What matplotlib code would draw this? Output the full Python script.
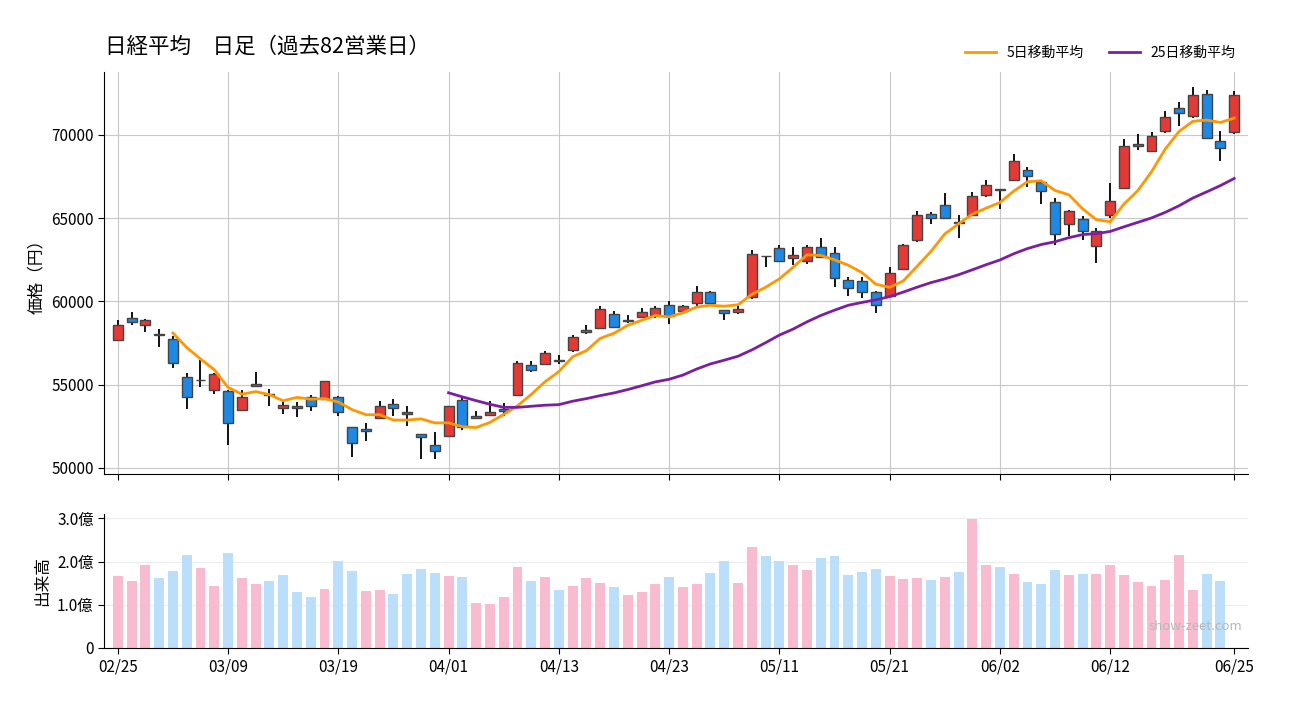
import numpy as np
import pandas as pd
import matplotlib
matplotlib.use("Agg")
import matplotlib.pyplot as plt

plt.rcParams['font.family'] = ['Noto Sans CJK JP', 'DejaVu Sans']

# 日足データ (過去82営業日)
opens = [57650, 58990, 58570, 58020, 57730, 55450, 55250, 54670, 54610, 53500,
         54910, 54400, 53590, 53590, 54250, 54140, 54250, 52440, 52340, 52990,
         53830, 53230, 52020, 51360, 51880, 54070, 52990, 53170, 53520, 54370,
         56170, 56230, 56420, 57050, 58290, 58410, 59230, 58830, 59050, 59150,
         59770, 59410, 59890, 60550, 59470, 59350, 60250, 62720, 63200, 62600,
         62410, 63250, 62900, 61270, 61210, 60550, 60350, 61930, 63680, 65240,
         65780, 64740, 65180, 66380, 66720, 67280, 67880, 67160, 65960, 64640,
         64940, 63320, 65180, 66800, 69320, 69020, 70220, 71600, 71120, 72440,
         69620, 70160]
highs = [58890, 59350, 58950, 58330, 57930, 55690, 56490, 55690, 54650, 54670,
         55780, 54750, 54020, 53960, 54370, 55240, 54310, 52460, 52690, 54040,
         54140, 53710, 52040, 52140, 53730, 54190, 53400, 54020, 53890, 56430,
         56430, 57030, 56790, 57990, 58590, 59730, 59390, 59170, 59590, 59730,
         60030, 59770, 60950, 60610, 59500, 59710, 63090, 62740, 63390, 63290,
         63390, 63810, 63250, 61490, 61490, 60610, 62090, 63440, 65450, 65380,
         66480, 65180, 66540, 67280, 66740, 68860, 68060, 67220, 66180, 65500,
         65140, 64410, 67100, 69740, 70060, 70160, 71420, 71960, 72880, 72680,
         70220, 72620]
lows = [57600, 58550, 58130, 57230, 56020, 53560, 54880, 54460, 51340, 53440,
        54850, 53740, 53260, 53080, 53440, 54100, 53140, 50620, 51580, 52960,
        53140, 52480, 50500, 50500, 51840, 52240, 52920, 53150, 53100, 54340,
        55750, 56200, 56230, 56970, 58010, 58370, 58400, 58690, 58970, 58970,
        58610, 59210, 59590, 59690, 58890, 59230, 60170, 62090, 62400, 62190,
        62270, 62640, 60890, 60350, 60230, 59270, 60330, 61870, 63560, 64640,
        64980, 63830, 65150, 66240, 65540, 67260, 66900, 65870, 63410, 63950,
        63710, 62330, 65000, 66780, 69120, 69000, 70100, 70520, 71040, 69780,
        68460, 70040]
closes = [58590, 58750, 58870, 58000, 56290, 54250, 55280, 55630, 52690, 54250,
          55030, 54380, 53770, 53720, 53700, 55210, 53350, 51480, 52200, 53710,
          53590, 53350, 51840, 51000, 53710, 52440, 53100, 53380, 53410, 56290,
          55870, 56890, 56450, 57850, 58150, 59530, 58430, 58840, 59350, 59590,
          59090, 59710, 60550, 59890, 59290, 59530, 62830, 62700, 62410, 62780,
          63250, 62650, 61390, 60790, 60550, 59770, 61690, 63380, 65180, 64990,
          65010, 64720, 66300, 66980, 66700, 68420, 67520, 66620, 64040, 65420,
          64210, 64230, 66020, 69340, 69440, 69920, 71060, 71300, 72380, 69800,
          69200, 72380]
# 出来高 (億株), 最終日は未確定
volumes = [1.67, 1.56, 1.93, 1.63, 1.79, 2.16, 1.86, 1.44, 2.21, 1.63,
           1.49, 1.56, 1.70, 1.30, 1.19, 1.37, 2.02, 1.79, 1.33, 1.35,
           1.26, 1.72, 1.84, 1.74, 1.67, 1.65, 1.05, 1.02, 1.19, 1.88,
           1.56, 1.65, 1.35, 1.44, 1.63, 1.51, 1.42, 1.23, 1.30, 1.47,
           1.65, 1.42, 1.49, 1.74, 2.02, 1.51, 2.33, 2.14, 2.02, 1.91,
           1.81, 2.09, 2.14, 1.70, 1.77, 1.84, 1.67, 1.60, 1.63, 1.58,
           1.65, 1.77, 2.98, 1.91, 1.88, 1.72, 1.53, 1.49, 1.81, 1.70,
           1.72, 1.72, 1.91, 1.70, 1.53, 1.44, 1.58, 2.16, 1.35, 1.72,
           1.56, 0.0]
tick_pos = [0, 8, 16, 24, 32, 40, 48, 56, 64, 72, 81]
tick_labels = ['02/25', '03/09', '03/19', '04/01', '04/13', '04/23',
               '05/11', '05/21', '06/02', '06/12', '06/25']

df = pd.DataFrame({'open': opens, 'high': highs, 'low': lows,
                   'close': closes, 'volume': volumes})
x = np.arange(len(df))
ma5 = df['close'].rolling(5).mean()
ma25 = df['close'].rolling(25).mean()

UP = '#e53935'
DOWN = '#1e88e5'

fig = plt.figure(figsize=(13, 7.2), dpi=100)
ax = fig.add_axes([0.08, 0.342, 0.88, 0.558])
axv = fig.add_axes([0.08, 0.1, 0.88, 0.186])

# ローソク足
up = df['close'] >= df['open']
ax.vlines(x, df['low'], df['high'], color='#111111', linewidth=1.4, zorder=2)
body_bottom = np.minimum(df['open'], df['close'])
body_h = np.maximum(np.abs(df['close'] - df['open']), 40)
ax.bar(x, body_h, bottom=body_bottom, width=0.72,
       color=np.where(up, UP, DOWN), edgecolor='#444444', linewidth=1.0, zorder=3)

ax.plot(x, ma5, color='#ff9800', linewidth=2, label='5日移動平均', zorder=4)
ax.plot(x, ma25, color='#7b1fa2', linewidth=2, label='25日移動平均', zorder=4)

ax.set_xlim(-1, 82)
ax.set_ylim(49640, 73780)
ax.set_yticks([50000, 55000, 60000, 65000, 70000])
ax.set_xticks(tick_pos)
ax.set_xticklabels([])
ax.grid(True, color='#c8c8c8', linewidth=0.8)
ax.set_axisbelow(True)
for s in ['top', 'right']:
    ax.spines[s].set_visible(False)
ax.tick_params(labelsize=11, length=4)
ax.set_ylabel('価格（円）', fontsize=12)

ax.legend(loc='lower right', bbox_to_anchor=(1.0, 1.0), ncol=2, frameon=False,
          fontsize=10, handlelength=2.2, columnspacing=1.8)

fig.text(0.081, 0.927, '日経平均　日足（過去82営業日）', fontsize=15.5)

# 出来高
vol_up = df['close'].diff().fillna(df['close'] - df['open']) >= 0
axv.bar(x, df['volume'], width=0.72,
        color=np.where(vol_up, '#f8bbd0', '#bbdefb'), zorder=2)
axv.set_xlim(-1, 82)
axv.set_ylim(0, 3.1)
axv.set_yticks([0, 1, 2, 3])
axv.set_yticklabels(['0', '1.0億', '2.0億', '3.0億'])
axv.set_xticks(tick_pos)
axv.set_xticklabels(tick_labels)
axv.grid(True, axis='y', color='#ececec', linewidth=0.8)
axv.set_axisbelow(True)
for s in ['top', 'right']:
    axv.spines[s].set_visible(False)
axv.tick_params(labelsize=11, length=4)
axv.set_ylabel('出来高', fontsize=12)
axv.text(0.995, 0.16, 'show-zeet.com', transform=axv.transAxes, ha='right',
         va='center', fontsize=9.5, color='#b8b8b8')

fig.savefig('out.png')
